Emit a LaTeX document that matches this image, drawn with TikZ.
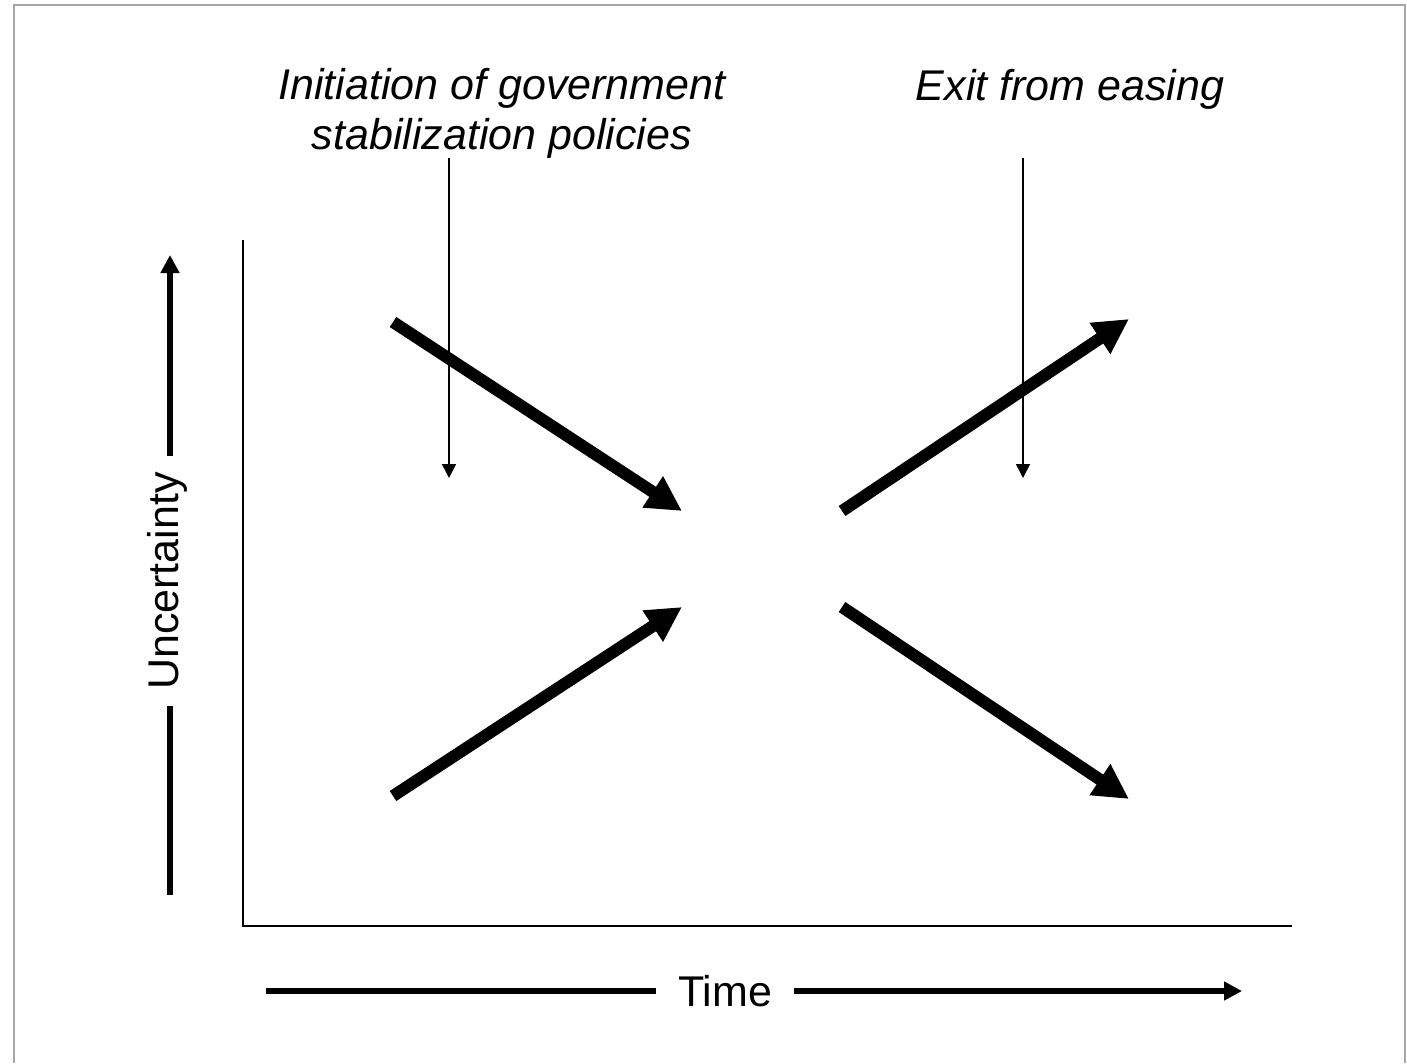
\documentclass[tikz,border=0pt]{standalone}
\usepackage{fontspec}
\setmainfont{Liberation Sans}
\usetikzlibrary{arrows.meta}
\begin{document}
\begin{tikzpicture}[x=1pt,y=-1pt,
  frame/.style={draw=black!35,line width=1.5pt},
  axisline/.style={line width=2pt},
  bigarrow/.style={line width=12pt,-{Triangle[length=35pt,width=35pt]}},
  midarrow/.style={line width=6pt,-{Triangle[length=18pt,width=18pt]}},
  midline/.style={line width=6pt},
  thinarrow/.style={line width=1.5pt,-{Triangle[length=14pt,width=14pt]}},
  lbl/.style={inner sep=0pt,font=\fontsize{43}{50}\selectfont},
  toplbl/.style={lbl,font=\fontsize{43}{50}\selectfont\itshape,align=center}]
\useasboundingbox (0,0) rectangle (1407,1063);
% frame
\coordinate (f1) at (14,1063);
\coordinate (f2) at (14,5);
\coordinate (f3) at (1405,5);
\coordinate (f4) at (1405,1063);
\draw[frame] (f1) -- (f2) -- (f3) -- (f4);
% axes
\coordinate (ax0) at (243,240);
\coordinate (ax1) at (243,926);
\coordinate (ax2) at (1292,926);
\draw[axisline] (ax0) -- (ax1) -- (ax2);
% top labels
\node[toplbl,anchor=north] (init) at (502,68) {Initiation of government\\stabilization policies};
\node[lbl,font=\fontsize{43}{50}\selectfont\itshape,anchor=base] (exit) at (1070,100) {Exit from easing};
% thin arrows
\coordinate (t1s) at (449,158);
\coordinate (t1e) at (449,478);
\coordinate (t2s) at (1023,158);
\coordinate (t2e) at (1023,478);
\draw[thinarrow] (t1s) -- (t1e);
\draw[thinarrow] (t2s) -- (t2e);
% Uncertainty axis label
\node[lbl,rotate=90,inner xsep=16pt] (unc) at (167,581) {Uncertainty};
\coordinate (ubot) at (170,895);
\coordinate (utop) at (170,255);
\draw[midline] (ubot) -- (ubot|-unc.west);
\draw[midarrow] (utop|-unc.east) -- (utop);
% Time axis label
\node[lbl,inner xsep=22pt] (time) at (725,991) {Time};
\coordinate (tl) at (266,991);
\coordinate (tr) at (1242,991);
\draw[midline] (tl) -- (time.west);
\draw[midarrow] (time.east) -- (tr);
% big arrows
\coordinate (a1s) at (393,322);
\coordinate (a1e) at (682,511);
\coordinate (a2s) at (393,796);
\coordinate (a2e) at (682,607);
\coordinate (a3s) at (842,511);
\coordinate (a3e) at (1129,319);
\coordinate (a4s) at (842,607);
\coordinate (a4e) at (1129,799);
\draw[bigarrow] (a1s) -- (a1e);
\draw[bigarrow] (a2s) -- (a2e);
\draw[bigarrow] (a3s) -- (a3e);
\draw[bigarrow] (a4s) -- (a4e);
\end{tikzpicture}
\end{document}
